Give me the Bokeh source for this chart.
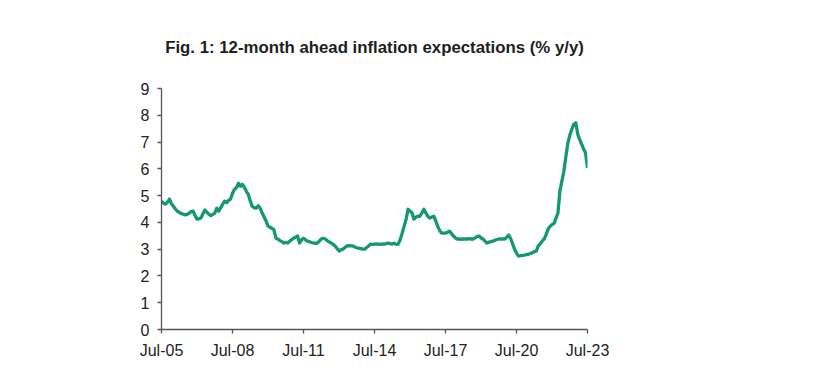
import pandas as pd
from bokeh.plotting import figure
from bokeh.models import FixedTicker, Range1d
from bokeh.embed import file_html
from bokeh.resources import INLINE

# Monthly series, Jul-2005 .. Jul-2023
start_month = "2005-07-01"
values_2005 = [4.79, 4.72, 4.68, 4.75, 4.87, 4.70]
values_2006 = [4.60, 4.50, 4.42, 4.38, 4.33, 4.31, 4.28, 4.30, 4.35, 4.40, 4.42, 4.25]
values_2007 = [4.12, 4.14, 4.16, 4.32, 4.46, 4.38, 4.31, 4.25, 4.30, 4.35, 4.53, 4.42]
values_2008 = [4.55, 4.68, 4.79, 4.74, 4.82, 4.87, 5.09, 5.24, 5.30, 5.46, 5.35, 5.42]
values_2009 = [5.30, 5.15, 5.05, 4.80, 4.60, 4.55, 4.53, 4.62, 4.53, 4.35, 4.20, 4.05]
values_2010 = [3.86, 3.82, 3.78, 3.73, 3.41, 3.38, 3.32, 3.28, 3.23, 3.25, 3.23, 3.30]
values_2011 = [3.36, 3.41, 3.45, 3.49, 3.23, 3.35, 3.41, 3.35, 3.30, 3.28, 3.25, 3.23]
values_2012 = [3.22, 3.23, 3.30, 3.38, 3.41, 3.38, 3.32, 3.27, 3.23, 3.18, 3.12, 3.02]
values_2013 = [2.93, 2.98, 3.00, 3.06, 3.12, 3.13, 3.12, 3.12, 3.08, 3.05, 3.04, 3.02]
values_2014 = [3.00, 3.00, 3.06, 3.12, 3.19, 3.18, 3.19, 3.20, 3.19, 3.18, 3.20, 3.19]
values_2015 = [3.21, 3.23, 3.21, 3.19, 3.22, 3.18, 3.19, 3.35, 3.60, 3.85, 4.12, 4.49]
values_2016 = [4.42, 4.35, 4.12, 4.20, 4.23, 4.23, 4.35, 4.49, 4.35, 4.23, 4.16, 4.20]
values_2017 = [4.23, 4.05, 3.86, 3.70, 3.60, 3.60, 3.60, 3.63, 3.67, 3.58, 3.49, 3.42]
values_2018 = [3.38, 3.38, 3.37, 3.38, 3.38, 3.38, 3.39, 3.38, 3.38, 3.42, 3.47, 3.49]
values_2019 = [3.42, 3.38, 3.30, 3.23, 3.26, 3.28, 3.30, 3.33, 3.36, 3.38, 3.38, 3.38]
values_2020 = [3.38, 3.45, 3.53, 3.40, 3.20, 3.00, 2.85, 2.74, 2.76, 2.77, 2.78, 2.80]
values_2021 = [2.81, 2.84, 2.87, 2.90, 2.93, 3.12, 3.20, 3.30, 3.38, 3.55, 3.75, 3.85]
values_2022 = [3.92, 3.97, 4.15, 4.35, 5.17, 5.55, 5.91, 6.45, 6.96, 7.25, 7.48, 7.66]
values_2023 = [7.72, 7.29, 7.10, 6.92, 6.75, 6.59, 6.03]

values = (values_2005 + values_2006 + values_2007 + values_2008 + values_2009
          + values_2010 + values_2011 + values_2012 + values_2013 + values_2014
          + values_2015 + values_2016 + values_2017 + values_2018 + values_2019
          + values_2020 + values_2021 + values_2022 + values_2023)
dates = pd.date_range(start_month, periods=len(values), freq="MS")

tick_dates = ["2005-07-01", "2008-07-01", "2011-07-01", "2014-07-01",
              "2017-07-01", "2020-07-01", "2023-07-01"]
tick_labels = ["Jul-05", "Jul-08", "Jul-11", "Jul-14", "Jul-17", "Jul-20", "Jul-23"]
y_ticks = [0, 1, 2, 3, 4, 5, 6, 7, 8, 9]

title_text = "Fig. 1: 12-month ahead inflation expectations (% y/y)"

tick_ms = [pd.Timestamp(d).value // 10**6 for d in tick_dates]

p = figure(width=816, height=384, x_axis_type="datetime",
           output_backend="svg", toolbar_location=None,
           min_border_left=161, min_border_right=229,
           min_border_top=88, min_border_bottom=55,
           title=title_text)
p.x_range = Range1d(tick_ms[0], tick_ms[-1])
p.y_range = Range1d(0, 9)

p.line(dates, values, line_color="#14996a", line_width=3.3, line_join="round")

p.title.text_font = "Liberation Sans"
p.title.text_font_size = "16.8px"
p.title.text_font_style = "bold"
p.title.text_color = "#1e1e1e"
p.title.align = "center"
p.title.standoff = 63

p.outline_line_color = None
p.xgrid.grid_line_color = None
p.ygrid.grid_line_color = None
p.background_fill_color = "white"
p.border_fill_color = "white"

xa = p.xaxis[0]
xa.ticker = FixedTicker(ticks=tick_ms)
xa.major_label_overrides = {t: l for t, l in zip(tick_ms, tick_labels)}
ya = p.yaxis[0]
ya.ticker = FixedTicker(ticks=y_ticks)

for ax in (xa, ya):
    ax.axis_line_color = "#555555"
    ax.axis_line_width = 1.3
    ax.major_tick_line_color = "#555555"
    ax.major_tick_line_width = 1.3
    ax.major_tick_out = 4
    ax.major_tick_in = 0
    ax.minor_tick_line_color = None
    ax.major_label_text_font = "Liberation Sans"
    ax.major_label_text_font_size = "16px"
    ax.major_label_text_color = "#222222"
xa.major_label_standoff = 8
ya.major_label_standoff = 8

open("out.html", "w").write(file_html(p, INLINE))
